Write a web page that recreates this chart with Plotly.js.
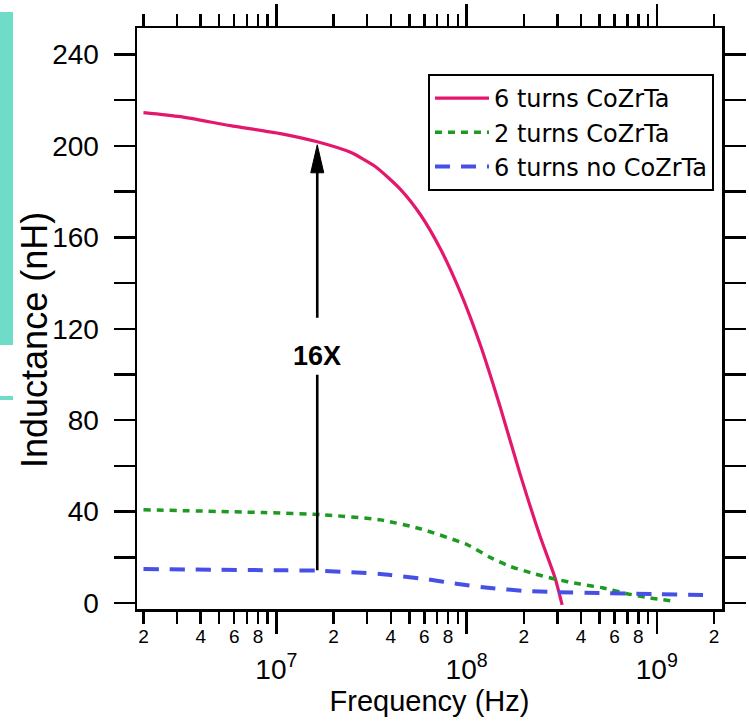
<!DOCTYPE html>
<html>
<head>
<meta charset="utf-8">
<script src="https://cdn.plot.ly/plotly-3.0.1.min.js"></script>
<style>html,body{margin:0;padding:0;background:#fff;}#chart{width:749px;height:724px;}</style>
</head>
<body>
<div id="chart"></div>
<script>
// ---- data ----
const freqPink = [2.0e6, 3.13e6, 5.73e6, 1.05e7, 1.64e7, 2.45e7, 3.31e7, 4.49e7, 5.71e7, 7.28e7, 9.27e7, 1.18e8, 1.50e8, 1.91e8, 2.44e8, 2.92e8, 3.18e8];
const indPink  = [214.6, 212.8, 208.9, 205.4, 201.8, 197.2, 191.0, 181.0, 170.0, 155.0, 136.0, 113.0, 86.0, 56.5, 29.0, 11.0, -0.8];

const freqGreen = [2.0e6, 8.55e6, 1.77e7, 3.52e7, 5.71e7, 1.01e8, 1.33e8, 1.70e8, 2.30e8, 2.92e8, 3.96e8, 5.23e8, 7.08e8, 9.23e8, 1.22e9];
const indGreen  = [40.8, 39.6, 38.6, 36.4, 32.5, 25.5, 20.0, 16.0, 12.7, 10.5, 8.3, 6.6, 4.0, 2.2, 0.9];

const freqBlue = [2.0e6, 1.14e7, 1.64e7, 3.52e7, 6.07e7, 9.04e7, 1.33e8, 2.04e8, 2.92e8, 5.05e8, 1.04e9, 1.82e9];
const indBlue  = [14.9, 14.3, 14.2, 12.7, 10.5, 8.3, 6.6, 5.3, 4.8, 4.4, 3.9, 3.5];

const seriesNames = ['6 turns CoZrTa', '2 turns CoZrTa', '6 turns no CoZrTa'];

// arrow annotation "16X"
const arrowFreq = 1.64e7;
const arrowTop = 200.5;
const arrowBottom = 14.4;
const arrowLabelY = 108;
const arrowLabel = '16X';

// ticks
const decadeTicks = [1e7, 1e8, 1e9];
const decadeLabels = ['10<sup>7</sup>', '10<sup>8</sup>', '10<sup>9</sup>'];
const minorTicks = [2e6,3e6,4e6,5e6,6e6,7e6,8e6,9e6, 2e7,3e7,4e7,5e7,6e7,7e7,8e7,9e7, 2e8,3e8,4e8,5e8,6e8,7e8,8e8,9e8, 2e9];
const digitTicks = [2e6,4e6,6e6,8e6, 2e7,4e7,6e7,8e7, 2e8,4e8,6e8,8e8, 2e9];
const digitLabels = ['2','4','6','8','2','4','6','8','2','4','6','8','2'];
const yTicks = [0, 40, 80, 120, 160, 200, 240];

const xRange = [6.267, 9.343];
const yRange = [-2.6, 251.6];

const FONT = 'Liberation Sans, Arial, Helvetica, sans-serif';
const LEGEND_FONT = 'DejaVu Sans, Liberation Sans, Arial, sans-serif';

const traces = [
  {x: freqPink, y: indPink, name: seriesNames[0], type: 'scatter', mode: 'lines',
   line: {color: '#e3186c', width: 3.2, shape: 'spline', smoothing: 0.6}},
  {x: freqGreen, y: indGreen, name: seriesNames[1], type: 'scatter', mode: 'lines',
   line: {color: '#1e9a22', width: 3.5, dash: '7px,6px', shape: 'spline', smoothing: 0.6}},
  {x: freqBlue, y: indBlue, name: seriesNames[2], type: 'scatter', mode: 'lines', xaxis: 'x2',
   line: {color: '#4650e6', width: 4, dash: '15px,11px', shape: 'spline', smoothing: 0.6}}
];

const axLog = Math.log10(arrowFreq);

const layout = {
  width: 749, height: 724,
  margin: {l: 137, r: 27, t: 28, b: 115},
  paper_bgcolor: '#ffffff', plot_bgcolor: '#ffffff',
  font: {family: FONT, color: '#000'},
  showlegend: true,
  legend: {x: 0.4974, y: 0.9208, xanchor: 'left', yanchor: 'top',
    bgcolor: '#ffffff', bordercolor: '#000', borderwidth: 2,
    font: {family: LEGEND_FONT, size: 24, color: '#000'}, itemwidth: 54, tracegroupgap: 0},
  xaxis: {
    type: 'log', range: xRange, showgrid: false, zeroline: false,
    showline: true, linecolor: '#000', linewidth: 2.5, mirror: 'allticks',
    ticks: 'outside', ticklen: 22, tickwidth: 2.5, tickcolor: '#000',
    tickmode: 'array', tickvals: decadeTicks, ticktext: decadeLabels,
    tickfont: {family: FONT, size: 28, color: '#000'}, ticklabelstandoff: 12,
    minor: {tickmode: 'array', tickvals: minorTicks, ticks: 'outside', ticklen: 12, tickwidth: 2.5, tickcolor: '#000', showgrid: false},
    title: {text: 'Frequency (Hz)', font: {family: FONT, size: 29, color: '#000'}, standoff: 0}
  },
  xaxis2: {
    type: 'log', range: xRange, overlaying: 'x', anchor: 'y', side: 'bottom',
    showgrid: false, zeroline: false, showline: false, ticks: '',
    tickmode: 'array', tickvals: digitTicks, ticktext: digitLabels,
    tickfont: {family: FONT, size: 19, color: '#000'}, ticklabelstandoff: 14
  },
  yaxis: {
    range: yRange, showgrid: false, zeroline: false,
    showline: true, linecolor: '#000', linewidth: 2.5, mirror: 'allticks',
    ticks: 'outside', ticklen: 21, tickwidth: 2.5, tickcolor: '#000',
    tickmode: 'array', tickvals: yTicks,
    tickfont: {family: FONT, size: 28, color: '#000'}, ticklabelstandoff: 9,
    minor: {dtick: 20, ticks: 'outside', ticklen: 11, tickwidth: 2.5, tickcolor: '#000', showgrid: false}
  },
  annotations: [
    {xref: 'paper', yref: 'paper', x: -0.1744, y: 0.463, xanchor: 'center', yanchor: 'middle',
     text: 'Inductance (nH)', textangle: -90, showarrow: false,
     font: {family: FONT, size: 36, color: '#000'}},
    {x: axLog, y: arrowTop - 8, ax: axLog, ay: arrowLabelY,
     xref: 'x', yref: 'y', axref: 'x', ayref: 'y',
     text: '<b>' + arrowLabel + '</b>', font: {family: FONT, size: 27, color: '#000'},
     showarrow: true, arrowhead: 0, arrowwidth: 2.6, arrowcolor: '#000', startstandoff: 22},
    {x: axLog, y: arrowBottom, ax: axLog, ay: arrowLabelY,
     xref: 'x', yref: 'y', axref: 'x', ayref: 'y',
     text: '<b>' + arrowLabel + '</b>', font: {family: FONT, size: 27, color: 'rgba(0,0,0,0)'},
     showarrow: true, arrowhead: 0, arrowwidth: 2.6, arrowcolor: '#000', startstandoff: 2}
  ],
  shapes: [
    {type: 'path', xref: 'x', yref: 'y', xsizemode: 'pixel', ysizemode: 'pixel',
     xanchor: arrowFreq, yanchor: arrowTop, path: 'M0,0 L-6.5,-28 L6.5,-28 Z',
     fillcolor: '#000', line: {color: '#000', width: 1}, layer: 'above'},
    {type: 'rect', xref: 'paper', yref: 'paper', x0: -0.2342, x1: -0.2120, y0: 0.4544, y1: 1.0275,
     fillcolor: '#6fdcc9', line: {width: 0}, layer: 'above'},
    {type: 'rect', xref: 'paper', yref: 'paper', x0: -0.2342, x1: -0.2120, y0: 0.3597, y1: 0.3666,
     fillcolor: '#6fdcc9', line: {width: 0}, layer: 'above'}
  ]
};

Plotly.newPlot('chart', traces, layout, {displayModeBar: false, staticPlot: true});
</script>
</body>
</html>
